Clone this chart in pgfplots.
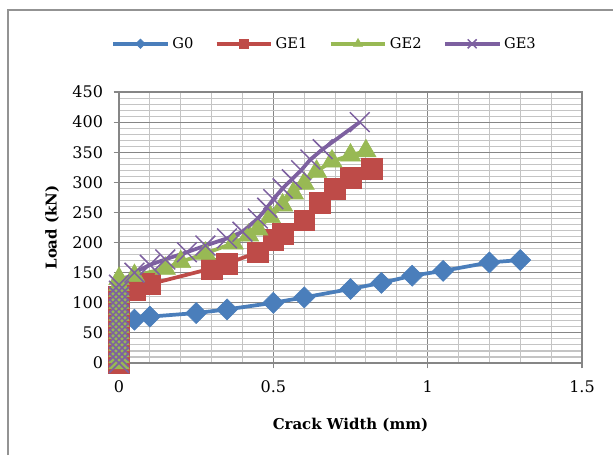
\documentclass[border=0pt]{standalone}
\usepackage{pgfplots}
\pgfplotsset{compat=1.18}
\usepackage{fontspec}
\setmainfont{DejaVu Serif}
\definecolor{cG0}{HTML}{4A7EBB}
\definecolor{cGE1}{HTML}{BE4B48}
\definecolor{cGE2}{HTML}{98B954}
\definecolor{cGE3}{HTML}{7D60A0}
\definecolor{majgrid}{HTML}{868686}
\definecolor{mingrid}{HTML}{C4C4C4}
\begin{document}
\begin{tikzpicture}[x=1pt,y=1pt]
\useasboundingbox (0,0) rectangle (459.75,-341.25);
\draw[color=gray!85, line width=1.2pt] (6,-341.25) -- (6,-7.5) -- (459.75,-7.5);
\begin{axis}[
  at={(89.25pt,-272.25pt)}, anchor=south west,
  scale only axis, width=347.25pt, height=203.25pt,
  xmin=0, xmax=1.5, ymin=0, ymax=450,
  xtick={0,0.5,1,1.5}, ytick={0,50,...,450},
  minor x tick num=4, minor y tick num=4,
  grid=both,
  major grid style={draw=majgrid, line width=0.8pt},
  minor grid style={draw=mingrid, line width=0.8pt},
  axis line style={draw=majgrid, line width=0.8pt},
  tick pos=left,
  tick align=outside,
  major tick length=4pt, minor tick length=0pt,
  every tick/.style={draw=majgrid, line width=0.8pt},
  tick label style={font=\fontsize{12}{14}\selectfont},
  xticklabel style={yshift=-5.5pt},
  yticklabel style={xshift=-4.5pt},
  /pgf/number format/assume math mode=true,
  label style={font=\bfseries\fontsize{11.2}{13}\selectfont},
  xlabel={Crack Width (mm)}, ylabel={Load (kN)},
  xlabel style={at={(axis description cs:0.5,-0.227)}, anchor=center},
  ylabel style={at={(axis description cs:-0.1445,0.5)}, anchor=center},
  clip=false,
  legend columns=4,
  legend style={at={(axis description cs:-0.026,1.178)}, anchor=west, draw=none, fill=none,
    font=\fontsize{11}{13}\selectfont,
    /tikz/every even column/.append style={column sep=14pt}},
  legend image code/.code={%
    \draw[mark=none] (0pt,0pt) -- (41pt,0pt);
    \draw[every mark/.append style={scale=0.45}] plot coordinates {(20.5pt,0pt)};},
]
\addplot[color=cG0, line width=2.8pt, mark=square*, mark size=5.6pt,
  mark options={solid, rotate=45, fill=cG0, draw=cG0, line width=0.4pt}] coordinates {
(0,0) (0,10) (0,20) (0,30) (0,40) (0,50) (0,60) (0.05,72) (0.1,77) (0.25,83) (0.35,89)
(0.5,100) (0.6,109) (0.75,123) (0.85,133) (0.95,145) (1.05,153) (1.2,167) (1.3,171)};
\addlegendentry{G0}
\addplot[color=cGE1, line width=2.8pt, mark=square*, mark size=7.8pt,
  mark options={solid, fill=cGE1, draw=cGE1, line width=0.4pt}] coordinates {
(0,0) (0,10) (0,20) (0,30) (0,40) (0,50) (0,60) (0,70) (0,80) (0,90) (0,100) (0,110)
(0.05,122) (0.1,131) (0.3,157) (0.35,165) (0.45,184) (0.5,205) (0.53,215) (0.6,237)
(0.65,266) (0.7,289) (0.75,308) (0.82,322)};
\addlegendentry{GE1}
\addplot[color=cGE2, line width=2.8pt, mark=triangle*, mark size=8.8pt,
  mark options={solid, fill=cGE2, draw=cGE2, line width=0.4pt}] coordinates {
(0,0) (0,10) (0,20) (0,30) (0,40) (0,50) (0,60) (0,70) (0,80) (0,90) (0,100) (0,110)
(0,120) (0,130) (0,140) (0.05,145) (0.15,157) (0.2,168) (0.28,182) (0.37,199) (0.42,212)
(0.45,222) (0.49,243) (0.53,262) (0.565,282) (0.6,298) (0.64,318) (0.69,335) (0.75,345) (0.8,352)};
\addlegendentry{GE2}
\addplot[color=cGE3, line width=2.8pt, mark=x, mark size=10.5pt,
  mark options={solid, draw=cGE3, line width=1.1pt}] coordinates {
(0,0) (0,10) (0,20) (0,30) (0,40) (0,50) (0,60) (0,70) (0,80) (0,90) (0,100) (0,110)
(0,120) (0,130) (0.05,150) (0.1,163) (0.15,172) (0.22,184) (0.28,195) (0.35,207) (0.4,218)
(0.45,240) (0.48,258) (0.5,272) (0.53,290) (0.56,305) (0.59,320) (0.62,338) (0.66,355) (0.78,400)};
\addlegendentry{GE3}
\end{axis}
\end{tikzpicture}
\end{document}
